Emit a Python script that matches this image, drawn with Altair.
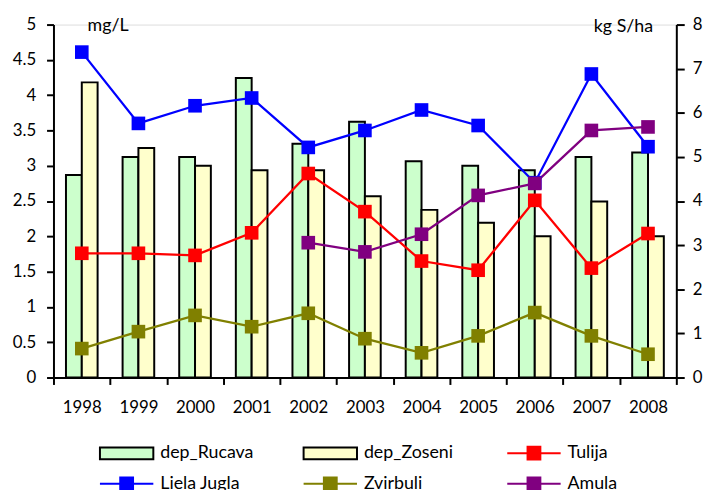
import altair as alt
import pandas as pd

years = [str(y) for y in range(1998, 2009)]
dep_rucava = [4.59, 5.0, 5.0, 6.79, 5.3, 5.8, 4.9, 4.8, 4.7, 5.0, 5.1]
dep_zoseni = [6.69, 5.2, 4.8, 4.7, 4.7, 4.11, 3.8, 3.51, 3.2, 3.99, 3.2]
tulija = [1.76, 1.76, 1.73, 2.05, 2.89, 2.35, 1.65, 1.52, 2.51, 1.55, 2.04]
liela_jugla = [4.61, 3.6, 3.85, 3.96, 3.26, 3.5, 3.79, 3.57, 2.76, 4.3, 3.27]
zvirbuli = [0.41, 0.65, 0.88, 0.72, 0.91, 0.55, 0.35, 0.59, 0.92, 0.59, 0.33]
amula = [None, None, None, None, 1.91, 1.78, 2.03, 2.58, 2.75, 3.5, 3.55]

bar_series = ["dep_Rucava", "dep_Zoseni"]
line_series = ["Tulija", "Liela Jugla", "Zvirbuli", "Amula"]
series = bar_series + line_series
fill_colors = ["#CCFFCC", "#FFFFCC", "#FF0000", "#0000FF", "#808000", "#800080"]
stroke_colors = ["#000000", "#000000", "#FF0000", "#0000FF", "#808000", "#800080"]

bar_rows = []
for name, vals in zip(bar_series, [dep_rucava, dep_zoseni]):
    for y, v in zip(years, vals):
        bar_rows.append({"year": y, "series": name, "value": v})
bar_df = pd.DataFrame(bar_rows)

line_rows = []
for name, vals in zip(line_series, [tulija, liela_jugla, zvirbuli, amula]):
    for y, v in zip(years, vals):
        if v is not None:
            line_rows.append({"year": y, "series": name, "value": v})
line_df = pd.DataFrame(line_rows)

FONT = "Lato"
TICK_FS = 17
TITLE_FS = 18

x_enc = alt.X(
    "year:N",
    sort=years,
    scale=alt.Scale(paddingInner=0, paddingOuter=0),
    axis=alt.Axis(
        title=None, labelAngle=0, tickBand="extent", labelFont=FONT, labelFontSize=TICK_FS,
        labelColor="black", domainColor="black", domainWidth=2, tickColor="black",
        tickWidth=2, tickSize=7, labelPadding=15, grid=False,
    ),
)

is_bar = "indexof(['dep_Rucava','dep_Zoseni'], datum.value) >= 0"
legend = alt.Legend(
    title=None, orient="none", legendX=46, legendY=419, columns=3, gridAlign="all",
    direction="horizontal",
    symbolSize=729,
    symbolType=alt.ExprRef(expr=is_bar + " ? 'M-1,-0.44H3V0.44H-1Z' : 'M-1,0H3M0.52,-0.48H1.48V0.48H0.52Z'"),
    symbolOpacity=1,
    labelFont=FONT, labelFontSize=18,
    labelColor="black", labelOffset=33, columnPadding=46, rowPadding=6, padding=0,
    symbolStrokeWidth=2, labelLimit=250,
)

fill_scale = alt.Scale(domain=series, range=fill_colors)
stroke_scale = alt.Scale(domain=series, range=stroke_colors)

bars = alt.Chart(bar_df).mark_bar(strokeWidth=2, opacity=1).encode(
    x=x_enc,
    xOffset=alt.XOffset("series:N", sort=bar_series,
                        scale=alt.Scale(domain=bar_series, paddingInner=0, paddingOuter=0.79)),
    y=alt.Y("value:Q", scale=alt.Scale(domain=[0, 8], nice=False),
            axis=alt.Axis(orient="right", values=list(range(9)), title="kg S/ha",
                          titleAngle=0, titleX=-24, titleY=7, titleAlign="right",
                          titleBaseline="alphabetic", titleFont=FONT, titleFontSize=TITLE_FS,
                          titleFontWeight="normal", titleColor="black",
                          labelFont=FONT, labelFontSize=TICK_FS, labelColor="black",
                          labelPadding=8, tickSize=8, tickWidth=2, tickColor="black",
                          domainColor="black", domainWidth=2, grid=False)),
    fill=alt.Fill("series:N", scale=fill_scale, sort=series, legend=legend),
    stroke=alt.Stroke("series:N", scale=stroke_scale, sort=series, legend=legend),
)

y_left = alt.Y("value:Q", scale=alt.Scale(domain=[0, 5], nice=False),
               axis=alt.Axis(orient="left", values=[i * 0.5 for i in range(11)],
                             labelExpr="format(datum.value, '~g')", title="mg/L",
                             titleAngle=0, titleX=34, titleY=6, titleAlign="left",
                             titleBaseline="alphabetic", titleFont=FONT, titleFontSize=TITLE_FS,
                             titleFontWeight="normal", titleColor="black",
                             labelFont=FONT, labelFontSize=TICK_FS, labelColor="black",
                             labelPadding=11, tickSize=7, tickWidth=2, tickColor="black",
                             domainColor="black", domainWidth=2, grid=False))

lines = alt.Chart(line_df).mark_line(strokeWidth=2.3).encode(
    x=x_enc,
    y=y_left,
    stroke=alt.Stroke("series:N", scale=stroke_scale, sort=series, legend=legend),
)
points = alt.Chart(line_df).mark_point(shape="square", filled=True, size=190, opacity=1).encode(
    x=x_enc,
    y=y_left,
    fill=alt.Fill("series:N", scale=fill_scale, sort=series, legend=legend),
)

line_layer = alt.layer(lines, points)

chart = alt.layer(bars, line_layer).resolve_scale(y="independent").properties(
    width=630, height=357,
    autosize=alt.AutoSizeParams(type="none"),
    padding={"left": 46, "top": 14, "right": 28, "bottom": 111},
).configure_view(stroke=None).configure(background="white")

chart.save("out.html", embed_options={"renderer": "svg", "actions": False})
